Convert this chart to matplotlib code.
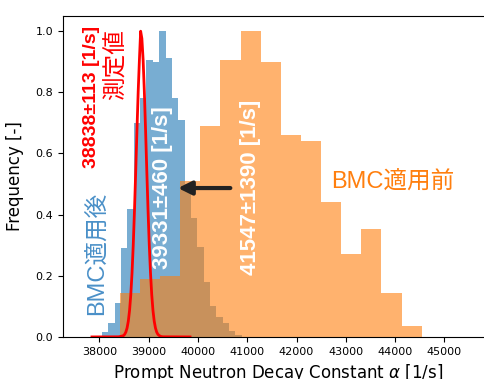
import matplotlib
matplotlib.use("Agg")
import matplotlib.pyplot as plt
import numpy as np

# histogram after BMC (blue): 22 equal bins between these edges
blue_range = (38055, 40888)
blue_freq = [0.016, 0.046, 0.11, 0.29, 0.417, 0.70, 0.78, 0.905, 0.898, 1.0, 0.912,
             0.78, 0.708, 0.50, 0.39, 0.295, 0.18, 0.10, 0.066, 0.046, 0.018, 0.007]

# histogram before BMC (orange): 15 equal bins
orange_range = (38414, 44540)
orange_freq = [0.145, 0.188, 0.20, 0.51, 0.69, 0.905, 1.0, 0.90, 0.659, 0.642,
               0.442, 0.271, 0.352, 0.145, 0.037]

meas_x = [37850, 38388, 38438, 38488, 38513, 38538, 38563, 38588, 38613, 38638,
          38663, 38688, 38713, 38738, 38763, 38788, 38813, 38838, 38863, 38888,
          38913, 38938, 38963, 38988, 39013, 39038, 39063, 39088, 39113, 39138,
          39163, 39188, 39238, 39288, 39840]
meas_y = [0.0, 0.0004, 0.0019, 0.0041, 0.0083, 0.016, 0.0295, 0.0518, 0.0865, 0.138,
          0.209, 0.301, 0.414, 0.542, 0.676, 0.802, 0.907, 1.0, 0.976, 0.907,
          0.802, 0.676, 0.542, 0.414, 0.301, 0.209, 0.138, 0.0865, 0.0518, 0.0295,
          0.016, 0.0083, 0.0019, 0.0004, 0.0]

jp = ['Liberation Sans', 'Noto Sans CJK JP']

fig = plt.figure(figsize=(4.85, 3.79), dpi=100)
ax = fig.add_axes([0.13, 0.111, 0.888, 0.847])

blue_edges = np.linspace(blue_range[0], blue_range[1], len(blue_freq) + 1)
orange_edges = np.linspace(orange_range[0], orange_range[1], len(orange_freq) + 1)

ax.hist(blue_edges[:-1], bins=blue_edges, weights=blue_freq, color='#1f77b4', alpha=0.6)
ax.hist(orange_edges[:-1], bins=orange_edges, weights=orange_freq, color='#ff7f0e', alpha=0.6)
ax.plot(meas_x, meas_y, color='red', lw=2)

ax.text(37842, 0.786, '38838±113 [1/s]', color='red', fontsize=14, fontweight='bold',
        rotation=90, ha='center', va='center', family=jp)
ax.text(38339, 0.89, '測定値', color='red', fontsize=17, rotation=90,
        ha='center', va='center', family=jp)
ax.text(37974, 0.273, 'BMC適用後', color='#4a90c8', fontsize=17, rotation=90,
        ha='center', va='center', family=jp)
ax.text(39272, 0.488, '39331±460 [1/s]', color='white', fontsize=16, fontweight='bold',
        rotation=90, ha='center', va='center', family=jp)
ax.text(41057, 0.488, '41547±1390 [1/s]', color='white', fontsize=16, fontweight='bold',
        rotation=90, ha='center', va='center', family=jp)
ax.text(43947, 0.504, 'BMC適用前', color='#ff7f0e', fontsize=17,
        ha='center', va='center', family=jp)

ax.annotate('', xy=(39596, 0.487), xytext=(40657, 0.487),
            arrowprops=dict(arrowstyle='-|>', color='#222222', lw=3, mutation_scale=20,
                            shrinkA=0, shrinkB=0))

ax.set_xlim(37264, 46000)
ax.set_ylim(0, 1.05)
ax.set_xticks([38000, 39000, 40000, 41000, 42000, 43000, 44000, 45000])
ax.tick_params(labelsize=8)
ax.set_xlabel(r'Prompt Neutron Decay Constant $\alpha$ [1/s]', fontsize=12)
ax.set_ylabel('Frequency [-]', fontsize=12, labelpad=8)

fig.savefig('out.png', dpi=100)
